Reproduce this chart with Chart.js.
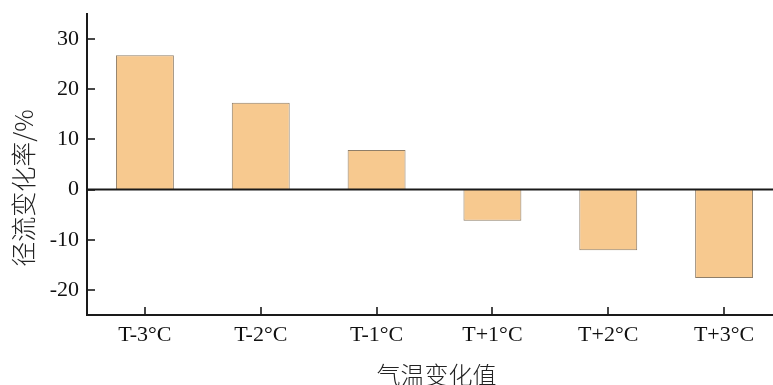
<!DOCTYPE html>
<html>
<head>
<meta charset="utf-8">
<script src="https://cdn.jsdelivr.net/npm/chart.js@4/dist/chart.umd.min.js"></script>
<style>
  html, body { margin: 0; padding: 0; background: #fff; overflow: hidden; }
  #wrap { width: 773px; height: 385px; overflow: hidden; position: relative; }
  canvas { display: block; }
</style>
</head>
<body>
<div id="wrap"><canvas id="c" width="790" height="387"></canvas></div>
<script>
// Temperature-change scenarios and resulting runoff change (%)
const categories = ['T-3°C', 'T-2°C', 'T-1°C', 'T+1°C', 'T+2°C', 'T+3°C'];
const runoffChange = [26.8, 17.3, 7.9, -6.2, -12.1, -17.6];
const yTickValues = [30, 20, 10, 0, -10, -20];
const yTitle = '径流变化率/%';
const xTitle = '气温变化值';

const serif = '"Liberation Serif", "Times New Roman", serif';
const cjk = '"Noto Sans CJK SC", sans-serif';

// Inward tick marks, full-width zero line and the two axis titles
const axisDecor = {
  id: 'axisDecor',
  afterDatasetsDraw(chart) {
    const { ctx, chartArea, scales } = chart;
    const x = scales.x, y = scales.y;
    ctx.save();
    ctx.strokeStyle = '#1a1a1a';
    ctx.lineWidth = 2;
    // zero line across the whole width
    const y0 = y.getPixelForValue(0);
    ctx.beginPath();
    ctx.moveTo(chartArea.left, y0);
    ctx.lineTo(chart.width, y0);
    ctx.stroke();
    // y ticks pointing right
    ctx.lineWidth = 1.6;
    yTickValues.forEach(v => {
      const py = Math.round(y.getPixelForValue(v));
      ctx.beginPath();
      ctx.moveTo(chartArea.left, py);
      ctx.lineTo(chartArea.left + 8, py);
      ctx.stroke();
    });
    // x ticks pointing up
    categories.forEach((c, i) => {
      const px = Math.round(x.getPixelForValue(i));
      ctx.beginPath();
      ctx.moveTo(px, chartArea.bottom);
      ctx.lineTo(px, chartArea.bottom - 8);
      ctx.stroke();
    });
    // titles
    ctx.fillStyle = '#222';
    ctx.textAlign = 'center';
    ctx.textBaseline = 'middle';
    ctx.font = '300 24px ' + cjk;
    ctx.fillText(xTitle, (chartArea.left + chartArea.right) / 2 + 2, 375);
    ctx.translate(23, 188);
    ctx.rotate(-Math.PI / 2);
    ctx.font = '300 25px ' + cjk;
    ctx.fillText(yTitle, 0, 0);
    ctx.restore();
  }
};

new Chart(document.getElementById('c'), {
  type: 'bar',
  data: {
    labels: categories,
    datasets: [{
      data: runoffChange,
      backgroundColor: '#F7C98F',
      borderColor: '#8f7e68',
      borderWidth: 1,
      barPercentage: 0.5,
      categoryPercentage: 1.0
    }]
  },
  options: {
    responsive: false,
    animation: false,
    layout: { padding: { top: 14, right: 8, left: 0, bottom: 0 } },
    plugins: { legend: { display: false }, tooltip: { enabled: false } },
    scales: {
      x: {
        grid: { display: true, drawOnChartArea: false, drawTicks: false },
        border: { display: true, color: '#1a1a1a', width: 2 },
        ticks: { color: '#111', font: { family: serif, size: 22 }, padding: 7, maxRotation: 0 },
        afterFit(s) { s.height = 387 - 315; s.paddingLeft = 0; s.paddingRight = 0; }
      },
      y: {
        min: -25,
        max: 35,
        grid: { display: true, drawOnChartArea: false, drawTicks: false },
        border: { display: true, color: '#1a1a1a', width: 2 },
        ticks: { color: '#111', font: { family: serif, size: 22 }, padding: 8 },
        afterBuildTicks(s) { s.ticks = yTickValues.map(v => ({ value: v })); },
        afterFit(s) { s.width = 87; s.paddingTop = 0; s.paddingBottom = 0; }
      }
    }
  },
  plugins: [axisDecor]
});
</script>
</body>
</html>
